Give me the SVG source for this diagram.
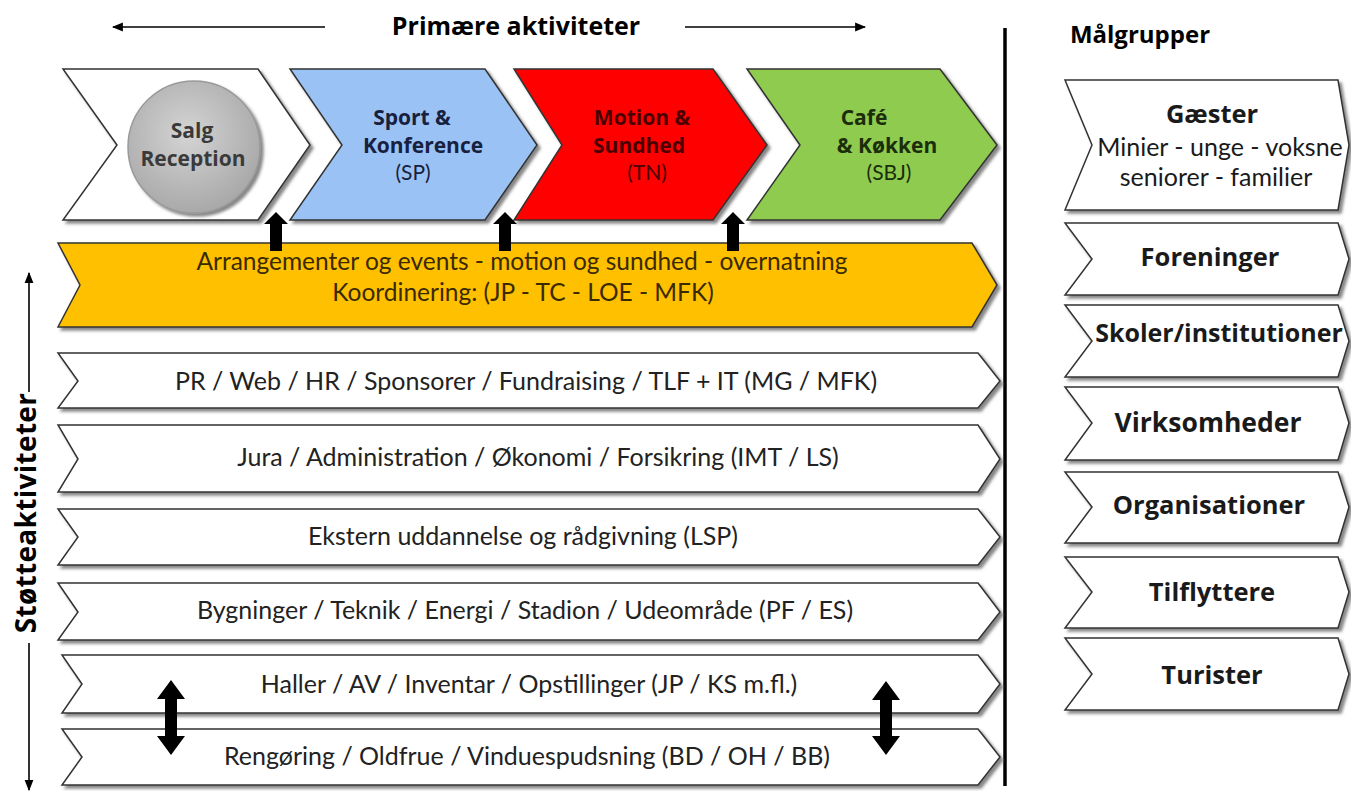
<svg xmlns="http://www.w3.org/2000/svg" width="1351" height="791" viewBox="0 0 1351 791">
<defs>
<style>
.b{font-family:"Open Sans","Liberation Sans",sans-serif;font-weight:700;text-anchor:middle}
.r{font-family:Lato,"Liberation Sans",sans-serif;font-weight:400;text-anchor:middle}
.row{fill:#ffffff;stroke:#333;stroke-width:1.5;filter:url(#sh)}
.ln{stroke:#000;stroke-width:1.6;fill:none}
.blk{fill:#000}
.rt{font-size:25px;fill:#222}
.mg{font-size:25.5px;fill:#1a1a1a}
</style>
<filter id="sh" x="-5%" y="-10%" width="115%" height="130%">
<feDropShadow dx="3" dy="3" stdDeviation="1.5" flood-color="#555" flood-opacity="0.7"/>
</filter>
<radialGradient id="cg" cx="45%" cy="40%" r="60%">
<stop offset="0" stop-color="#d4d4d4"/>
<stop offset="1" stop-color="#a9a9a9"/>
</radialGradient>
<marker id="ah" viewBox="0 0 10 10" refX="9" refY="5" markerWidth="11" markerHeight="11" markerUnits="userSpaceOnUse" orient="auto">
<path d="M0,1 L10,5 L0,9 Z" fill="#000"/>
</marker>
</defs>
<rect width="1351" height="791" fill="#ffffff"/>

<g id="connectors">
<line class="ln" x1="325" y1="27" x2="113" y2="27" marker-end="url(#ah)"/>
<line class="ln" x1="685" y1="27" x2="865" y2="27" marker-end="url(#ah)"/>
<line class="ln" x1="29" y1="392" x2="29" y2="273" marker-end="url(#ah)"/>
<line class="ln" x1="29" y1="643" x2="29" y2="790" marker-end="url(#ah)"/>
<line x1="1005" y1="28" x2="1005" y2="786" stroke="#000" stroke-width="3.5"/>
</g>

<text class="b" x="516" y="35" font-size="25">Primære aktiviteter</text>
<text class="b" x="0" y="0" font-size="28" letter-spacing="0.3" transform="translate(36,513) rotate(-90)">Støtteaktiviteter</text>
<text class="b" x="1140" y="43" font-size="24">Målgrupper</text>

<g id="salg">
<polygon class="row" points="63,69 258,69 310,145 258,220 63,220 117,145"/>
<circle cx="194" cy="147" r="66" fill="url(#cg)" stroke="#9a9a9a" stroke-width="1.5" filter="url(#sh)"/>
<text class="b" x="192" y="138" font-size="21" fill="#3a3a3a">Salg</text>
<text class="b" x="193" y="166" font-size="21" fill="#3a3a3a">Reception</text>
</g>
<g id="sport">
<polygon points="290,69 485,69 537,145 485,220 290,220 342,145" fill="#9bc2f4" stroke="#333" stroke-width="1.5" filter="url(#sh)"/>
<text class="b" x="412" y="125" font-size="21" fill="#17203f">Sport &amp;</text>
<text class="b" x="423" y="153" font-size="21" fill="#17203f">Konference</text>
<text class="r" x="413" y="180" font-size="21" fill="#17203f">(SP)</text>
</g>
<g id="motion">
<polygon points="514,69 713,69 767,145 713,220 514,220 562,145" fill="#ff0000" stroke="#333" stroke-width="1.5" filter="url(#sh)"/>
<text class="b" x="642" y="125" font-size="21" fill="#4a0000">Motion &amp;</text>
<text class="b" x="639" y="153" font-size="21" fill="#4a0000">Sundhed</text>
<text class="r" x="647" y="180" font-size="21" fill="#4a0000">(TN)</text>
</g>
<g id="cafe">
<polygon points="747,69 940,69 997,145 940,220 747,220 800,145" fill="#8fcb4f" stroke="#333" stroke-width="1.5" filter="url(#sh)"/>
<text class="b" x="864" y="125" font-size="21" fill="#1b2d0a">Café</text>
<text class="b" x="887" y="153" font-size="21" fill="#1b2d0a">&amp; Køkken</text>
<text class="r" x="889" y="180" font-size="21" fill="#1b2d0a">(SBJ)</text>
</g>

<g id="arrangementer">
<polygon points="58,243 972,243 997,285 972,327 58,327 80,285" fill="#ffc000" stroke="#333" stroke-width="1.5" filter="url(#sh)"/>
<text class="r" x="522" y="270" font-size="24.5" fill="#3a2a00">Arrangementer og events - motion og sundhed - overnatning</text>
<text class="r" x="523" y="301" font-size="24.5" fill="#3a2a00">Koordinering: (JP - TC - LOE - MFK)</text>
</g>

<g id="up-arrows">
<polygon class="blk" points="276,212 288,224 282,224 282,251 270,251 270,224 264,224"/>
<polygon class="blk" points="505,212 517,224 511,224 511,251 499,251 499,224 493,224"/>
<polygon class="blk" points="733,212 745,224 739,224 739,251 727,251 727,224 721,224"/>
</g>

<g id="row-pr">
<polygon class="row" points="58,353 978,353 1000,381 978,408 58,408 78,381"/>
<text class="r rt" x="526" y="390">PR / Web / HR / Sponsorer / Fundraising / TLF + IT (MG / MFK)</text>
</g>
<g id="row-jura">
<polygon class="row" points="58,425 978,425 1000,459 978,492 58,492 78,459"/>
<text class="r rt" x="538" y="466">Jura / Administration / Økonomi / Forsikring (IMT / LS)</text>
</g>
<g id="row-ekstern">
<polygon class="row" points="58,509 978,509 1000,537 978,565 58,565 78,537"/>
<text class="r rt" x="523" y="545">Ekstern uddannelse og rådgivning (LSP)</text>
</g>
<g id="row-bygninger">
<polygon class="row" points="58,583 978,583 1000,612 978,640 58,640 78,612"/>
<text class="r rt" x="525" y="619">Bygninger / Teknik / Energi / Stadion / Udeområde (PF / ES)</text>
</g>
<g id="row-haller">
<polygon class="row" points="62,655 978,655 1000,684 978,713 62,713 82,684"/>
<text class="r rt" x="529" y="693">Haller / AV / Inventar / Opstillinger (JP / KS m.fl.)</text>
</g>
<g id="row-rengoring">
<polygon class="row" points="62,729 978,729 1000,757 978,785 62,785 82,757"/>
<text class="r rt" x="527" y="765">Rengøring / Oldfrue / Vinduespudsning (BD / OH / BB)</text>
</g>

<g id="double-arrows">
<polygon class="blk" points="171,680 185,699 177,699 177,736 185,736 171,755 157,736 165,736 165,699 157,699"/>
<polygon class="blk" points="886,681 900,700 892,700 892,736 900,736 886,755 872,736 880,736 880,700 872,700"/>
</g>

<g id="gaester">
<polygon class="row" points="1065,80 1338,80 1349,145 1338,210 1065,210 1092,145"/>
<text class="b mg" x="1212" y="123">Gæster</text>
<text class="r" x="1220" y="156" font-size="25" fill="#1a1a1a">Minier - unge - voksne</text>
<text class="r" x="1216" y="186" font-size="25" fill="#1a1a1a">seniorer - familier</text>
</g>
<g id="foreninger">
<polygon class="row" points="1065,223 1338,223 1349,259 1338,295 1065,295 1092,259"/>
<text class="b mg" x="1210" y="266">Foreninger</text>
</g>
<g id="skoler">
<polygon class="row" points="1065,305 1338,305 1349,341 1338,377 1065,377 1092,341"/>
<text class="b" x="1219" y="342" font-size="25" fill="#1a1a1a">Skoler/institutioner</text>
</g>
<g id="virksomheder">
<polygon class="row" points="1065,387 1338,387 1349,423 1338,460 1065,460 1092,423"/>
<text class="b" x="1208" y="432" font-size="26.5" fill="#1a1a1a">Virksomheder</text>
</g>
<g id="organisationer">
<polygon class="row" points="1065,472 1338,472 1349,507 1338,543 1065,543 1092,507"/>
<text class="b mg" x="1209" y="514">Organisationer</text>
</g>
<g id="tilflyttere">
<polygon class="row" points="1065,557 1338,557 1349,592 1338,628 1065,628 1092,592"/>
<text class="b mg" x="1212" y="601">Tilflyttere</text>
</g>
<g id="turister">
<polygon class="row" points="1065,638 1338,638 1349,674 1338,710 1065,710 1092,674"/>
<text class="b mg" x="1212" y="684">Turister</text>
</g>
</svg>
